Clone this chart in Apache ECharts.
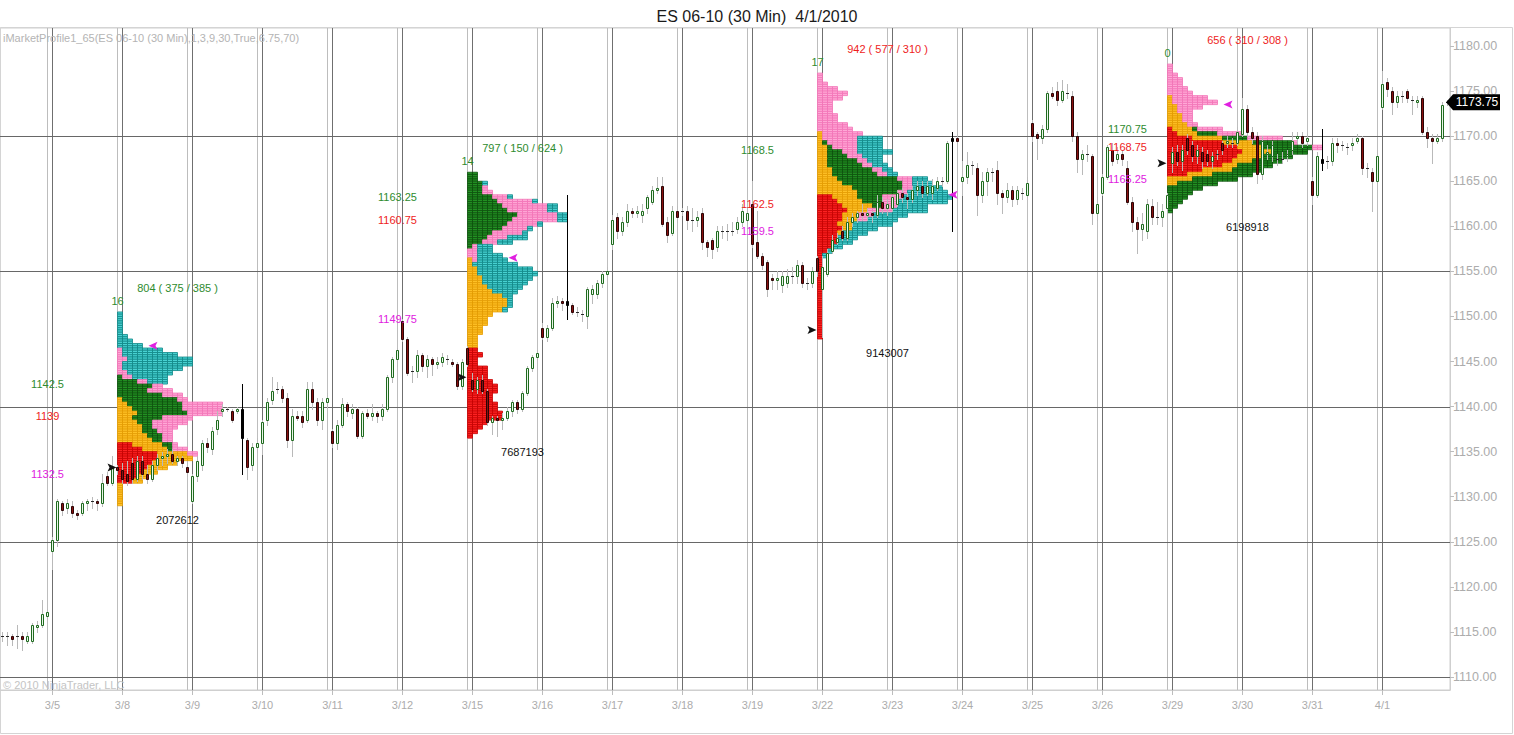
<!DOCTYPE html>
<html><head><meta charset="utf-8">
<script src="https://cdn.jsdelivr.net/npm/echarts@6/dist/echarts.min.js"></script>
<style>html,body{margin:0;padding:0;background:#fff}#c{width:1514px;height:735px}</style>
</head><body><div id="c"></div>
<script>
// ---------- data ----------
const days = ['3/4','3/5','3/8','3/9','3/10','3/11','3/12','3/15','3/16','3/17','3/18','3/19','3/22','3/23','3/24','3/25','3/26','3/29','3/30','3/31','4/1'];
const barsPerDay = [10,14,14,14,14,14,14,14,14,14,14,14,14,14,14,14,14,14,14,14,14];
const yTickValues = [1110,1115,1120,1125,1130,1135,1140,1145,1150,1155,1160,1165,1170,1175,1180];
const yGridValues = [1110,1125,1140,1155,1170];

// OHLC [open, high, low, close] per 30-min bar
const wk0304 = [
 [1114.5,1115,1114,1114.5],[1114.5,1115,1113.5,1114.5],[1114.5,1114.75,1113.5,1114.25],[1114.5,1115.75,1113.25,1114.5],
 [1114.5,1115,1113,1114.25],[1114,1115,1113.75,1114.5],[1114,1116,1113.75,1115.75],[1115.5,1116.25,1115,1115.75],
 [1115.75,1118.5,1115.5,1117],[1116.75,1117.5,1116.5,1117.25],
 [1124,1125.5,1122,1125.25],[1125.25,1129.75,1124.5,1129.5],[1129.25,1129.5,1128,1128.5],[1128.75,1129.75,1128.25,1129.25],
 [1129,1129.5,1127.75,1128.25],[1128.25,1128.5,1127.5,1128],[1128.25,1129.5,1128,1129.25],[1129.25,1129.75,1128.5,1129.5],
 [1129.5,1130,1128.75,1129.5],[1129.5,1129.75,1128.5,1129.25],[1129.25,1132.5,1129,1131.5],[1132.25,1132.75,1131.25,1131.5],
 [1131.5,1134.5,1131.25,1133.25],[1133.25,1133.5,1132.5,1133]
];
const wk0308 = [
 [1133,1133.75,1131.5,1132],[1132.5,1134,1131.25,1131.75],[1133.75,1134.25,1131.5,1132],[1132,1134.5,1131.75,1134],
 [1134,1134.5,1132,1132.5],[1132.5,1133.5,1131.5,1132],[1132,1134,1131.75,1133.5],[1133.5,1134.75,1133,1134.25],
 [1134.25,1135,1133.5,1134.5],[1134.5,1135.25,1133.75,1134.75],[1134.75,1135.25,1133.75,1134],[1134,1134.5,1133.5,1134.25],
 [1134.25,1134.5,1133.25,1133.75],[1133.25,1134,1132.25,1132.75],
 [1129.5,1132.5,1129.25,1132.25],[1132.25,1134.5,1131.75,1134],[1133.5,1136.25,1133,1136],[1136,1136.5,1135,1135.5],
 [1135.25,1137.75,1134.75,1137.25],[1137.5,1139.5,1137,1138.5],[1139.5,1140.25,1139,1139.75],[1139.75,1140,1139.5,1139.75],
 [1139.5,1139.75,1138.25,1138.5],[1139.5,1140,1139.25,1139.75],[1139.75,1142.5,1132.5,1136.5],[1136.25,1136.5,1132,1133.25],
 [1133.5,1136,1133,1135.5],[1135.5,1136.5,1135,1136],
 [1136,1138.5,1134.75,1138.25],[1138.5,1141,1138,1140.5],[1140.75,1143.25,1140.25,1141.75],[1142,1142.75,1141.5,1142],
 [1142,1142.25,1140.5,1141],[1141,1141.5,1135.5,1136.25],[1136.25,1139.75,1134.5,1139],[1139,1139.5,1138.5,1138.75],
 [1139,1139.5,1137.75,1138.25],[1138.5,1142.75,1138.25,1142],[1142,1142.75,1139.75,1140.5],[1140.5,1141,1138,1138.5],
 [1138.5,1141,1137.5,1140.5],[1140.5,1141.5,1140,1141],
 [1137.25,1137.5,1135.5,1136],[1136,1138.5,1135.25,1138],[1138,1141,1137.75,1140.25],[1140.25,1140.5,1139,1139.5],
 [1139.25,1140.25,1138.75,1139.75],[1139.75,1140,1136.5,1136.75],[1136.75,1139.5,1136.5,1139.25],[1139.25,1139.75,1138.75,1139],
 [1139,1140.25,1138.5,1139.25],[1139.25,1139.5,1138.25,1139],[1139,1140.25,1138.5,1139.75],[1139.75,1143.5,1139.5,1143.25],
 [1143.25,1145.5,1142.75,1145.25],[1145.25,1146.5,1144.5,1146.25],
 [1149.5,1149.75,1147.25,1147.5],[1147.5,1147.75,1143.5,1143.75],[1144,1144.5,1142.75,1144],[1144,1146.25,1143.25,1145.75],
 [1145.75,1146,1144,1144.5],[1144.5,1145.75,1143.25,1145.25],[1145.25,1145.5,1143.5,1144.75],[1144.75,1145.5,1144.25,1145],
 [1145,1146,1144.5,1145.5],[1145.25,1145.75,1144.75,1145.25],[1145,1145.25,1144.5,1144.75],[1144.75,1145,1142,1142.25],
 [1142.25,1145.25,1142,1145],[1146.5,1146.75,1144.5,1144.75]
];
const wk0315 = [
 [1143,1143.75,1141.75,1142],[1142,1143.25,1141.5,1143],[1143,1143.5,1141.5,1141.75],[1141.75,1142,1138,1138.25],
 [1138.25,1139,1137,1138.75],[1138.75,1139,1136.75,1138.5],[1138.5,1139.25,1137.5,1138.75],[1138.75,1140,1138.5,1139.5],
 [1139.5,1140.75,1139,1140.5],[1140.5,1140.75,1139.25,1139.75],[1139.75,1141.75,1139.5,1141.5],[1141.5,1144.5,1141.25,1144.25],
 [1144.25,1145.75,1144,1145.5],[1145.5,1146.25,1145.25,1146],
 [1148.75,1149.25,1147.5,1147.75],[1147.75,1149,1147.25,1148.75],[1148.75,1152,1148.5,1151.5],[1151.5,1152.25,1151,1151.75],
 [1151.75,1152,1150.75,1151.5],[1151.75,1163.5,1149.75,1151.25],[1151.25,1151.5,1150.25,1150.5],[1150.5,1151,1150,1150.5],
 [1150.25,1150.75,1149.5,1150.25],[1150,1153.25,1148.75,1153],[1152.5,1153.5,1151.5,1153],[1152.5,1154,1152,1153.75],
 [1153.75,1155,1153.25,1154.75],[1154.75,1155.5,1154.5,1155],
 [1158,1161.25,1157.5,1160.75],[1161,1161.5,1158.75,1159.5],[1159.5,1161,1159,1160.5],[1160.5,1162.5,1160,1161.75],
 [1161.75,1162,1161,1161.5],[1161.5,1162.25,1161,1161.75],[1161.25,1162.5,1160.5,1161.75],[1162,1163.5,1161.5,1163.25],
 [1162.75,1164.5,1162.5,1164],[1164,1165.5,1163.75,1164.25],[1164.5,1165.5,1160,1160.25],[1160.5,1161,1158.25,1159],
 [1159.25,1162.25,1159,1161.75],[1161.75,1162.25,1160.5,1161],
 [1161.75,1162,1161.25,1161.75],[1161.75,1162.25,1159.75,1160.75],[1160.75,1162,1159.5,1160.75],[1160.75,1161.75,1160,1161],
 [1161.5,1162,1157.5,1158.25],[1158.25,1158.5,1156.75,1157.75],[1158.5,1158.75,1156.5,1157.5],[1157.75,1160,1157.25,1159.5],
 [1159.5,1160,1158.75,1159.5],[1159.5,1160.25,1158.5,1159.5],[1159.5,1160.5,1159,1159.5],[1159.75,1161,1159.25,1160.5],
 [1160.5,1162.5,1160,1161.75],[1160.75,1162,1160.25,1161.5],
 [1162.5,1165,1157.75,1158],[1158.25,1161.75,1156.5,1156.75],[1156.75,1157,1155.25,1155.75],[1156,1156.25,1152.25,1153],
 [1154.25,1154.75,1153,1154],[1154,1155,1153,1154.25],[1153.5,1155,1152.75,1154.5],[1153.75,1155.25,1153.25,1154.5],
 [1154.5,1155.5,1153.75,1154.5],[1154.5,1156.25,1153.75,1155.75],[1155.75,1156,1153.25,1153.75],[1153.75,1154.25,1153,1153.75],
 [1153.75,1155.5,1153.25,1155],[1156.5,1156.75,1154.5,1155]
];
const wk0322 = [
 [1153,1156.75,1147.75,1155.5],[1154.75,1157.5,1154.5,1157],[1157.25,1159,1157,1158.5],[1158.25,1159.25,1158,1158.75],
 [1159.5,1160,1158.5,1158.75],[1158.75,1161,1158.5,1160.5],[1160.5,1161.5,1160,1161],[1161,1161.75,1160.5,1161.5],
 [1161.5,1162.5,1160.75,1161.25],[1161.25,1162,1160.75,1161.5],[1161.5,1161.75,1160.5,1161.25],[1161.25,1163.5,1161,1162.75],
 [1162.75,1163.25,1161.5,1162],[1162,1163,1161.25,1162.5],
 [1162,1163.5,1161.75,1163.25],[1162.5,1164,1162.25,1163.75],[1163.75,1164.25,1162.75,1163.25],[1163.25,1163.75,1162,1163],
 [1163,1164.5,1162.75,1164],[1164,1165,1163.5,1164.5],[1164.5,1165,1163.25,1163.75],[1163.75,1165,1163.5,1164.5],
 [1163.75,1165.25,1163,1164.5],[1164.25,1165.5,1164,1165],[1165,1165.5,1164.5,1165],[1165,1169.5,1164.75,1169.25],
 [1169.75,1170.5,1159.5,1169.5],[1169.75,1170.25,1169.25,1169.5],
 [1165,1167.25,1163.5,1165.5],[1165.5,1168.25,1164.75,1166.75],[1166.75,1167.25,1165.75,1166.75],[1166.5,1167,1161.25,1163.5],
 [1163.5,1166,1162.75,1165],[1165,1166.5,1163.5,1166],[1166,1166.5,1165,1166],[1166.25,1167.25,1162.5,1163.75],
 [1163.75,1164,1161.5,1163.25],[1163.25,1164.75,1162.75,1164],[1164,1164.5,1162.25,1163],[1163,1164.5,1162.5,1164],
 [1163.75,1164.25,1163,1163.75],[1163.5,1165.5,1163.25,1164.75],
 [1171.5,1171.75,1169.5,1170],[1170.25,1170.5,1167.5,1169.75],[1169.75,1171.25,1169.25,1170.75],[1170.75,1175,1170.5,1174.75],
 [1174.75,1175.5,1174.25,1174.5],[1175,1176,1173.5,1174],[1174,1176.25,1173.75,1175],[1174.75,1175.75,1174.25,1174.75],
 [1174.5,1175,1169.5,1170],[1170,1170.5,1166,1167.5],[1167.5,1168.5,1165.75,1168],[1168,1169,1167.25,1168],
 [1167.75,1168,1160.25,1161.5],[1161.5,1163.25,1160.75,1162.5],
 [1163.75,1165.75,1163.5,1165.5],[1165.5,1169,1165.25,1168.75],[1168.5,1169.25,1166.75,1167.25],[1167.5,1168.75,1167,1168],
 [1168,1168.5,1166.75,1167.5],[1166.5,1167.25,1162.5,1162.75],[1162.75,1163.25,1159.5,1160.5],[1160.5,1161,1157,1159.75],
 [1159.75,1161.5,1158.5,1160.25],[1159.5,1163,1158.75,1162.5],[1162.25,1163,1160.25,1161],[1161,1162.75,1160.25,1161],
 [1161,1162.5,1160,1161.75],[1162,1163.75,1161.5,1163.5]
];
const wk0329 = [
 [1167,1168.75,1166,1168.25],[1168.25,1169,1166.75,1167.25],[1167.25,1169,1166.25,1168.5],[1169.75,1170.25,1168,1168.5],
 [1169,1169.5,1167.25,1167.75],[1167.75,1169,1167,1168.5],[1168.25,1168.75,1166.5,1167.25],[1168,1168.5,1166.75,1167.25],
 [1167.25,1168.25,1166.5,1167.75],[1168,1168.5,1167.5,1168],[1169.25,1169.5,1168,1168.5],[1169.25,1170,1168.75,1169.5],
 [1169.25,1169.75,1168.75,1169.25],[1169.25,1171,1169,1170.5],
 [1170.25,1174.25,1170,1173],[1173,1173.5,1170,1170.5],[1170.5,1171,1169.25,1169.75],[1170,1170.5,1164.75,1165.75],
 [1165.75,1170,1165.25,1169.5],[1168,1169,1167.5,1168.25],[1167.75,1169.5,1167.25,1169],[1167.5,1168,1166.75,1167.5],
 [1167.5,1168.25,1167,1167.5],[1167.75,1168.5,1167.25,1168],[1168.5,1170.5,1168,1169.5],[1169.75,1170.5,1169.25,1170],
 [1170,1170.5,1168.75,1169.25],[1169.5,1170.25,1169,1169.75],
 [1165,1165.5,1162.5,1163.5],[1163.5,1168.25,1163.25,1167.75],[1167.5,1170.75,1166.25,1167],[1167.25,1167.75,1166.5,1167.25],
 [1167.25,1169.75,1166.75,1169.25],[1169.25,1169.75,1168.25,1169],[1169,1169.5,1168.5,1169],[1168.75,1169.25,1168,1168.75],
 [1169,1169.75,1168.5,1169.25],[1169.5,1170.25,1169.25,1169.75],[1169.75,1170,1165.75,1166.5],[1166.5,1167,1165.5,1166.5],
 [1166,1166.5,1161.75,1165],[1165,1168.5,1164.75,1167.75],
 [1173.25,1177.25,1173,1175.75],[1176,1176.5,1174.5,1175.25],[1175,1175.5,1172.5,1173.75],[1173.75,1175,1173.25,1174.5],
 [1174.5,1175,1173.75,1174.5],[1175,1175.25,1173.75,1174.25],[1174,1174.5,1172.5,1174],[1173.75,1174.5,1173.25,1174],
 [1174.25,1174.5,1170.25,1170.5],[1170.5,1171,1168.75,1169.75],[1169.75,1170.25,1167,1169.5],[1169.5,1170.25,1169.25,1169.75],
 [1169.75,1173.75,1169.5,1173.5],[1173.75,1174,1173.5,1173.75]
];
const blackBars = [48, 113, 190, 264];

// Weekly market profiles: [price, Mon, Tue, Wed, Thu, Fri] (TPO cells per day, 0.5 pt rows)
const prof0308 = [
 [1150.25,0,0,0,0,1],[1149.75,0,0,0,0,1],[1149.25,0,0,0,0,1],[1148.75,0,0,0,0,1],[1148.25,0,0,0,0,1],
 [1147.75,0,0,0,0,2],[1147.25,0,0,0,0,3],[1146.75,0,0,0,0,5],[1146.25,0,0,0,1,8],[1145.75,0,0,0,1,11],
 [1145.25,0,0,0,2,13],[1144.75,0,0,0,1,14],[1144.25,0,0,0,1,12],[1143.75,0,0,0,2,9],[1143.25,0,0,1,2,7],
 [1142.75,0,0,4,2,4],[1142.25,0,0,7,2,0],[1141.75,0,0,6,5,0],[1141.25,0,0,9,4,0],[1140.75,0,1,11,2,0],
 [1140.25,0,2,11,8,0],[1139.75,0,3,10,8,0],[1139.25,0,4,10,7,0],[1138.75,0,3,6,6,0],[1138.25,0,4,3,7,0],
 [1137.75,0,5,2,5,0],[1137.25,0,5,3,3,0],[1136.75,0,6,3,2,0],[1136.25,0,7,2,2,0],[1135.75,3,6,2,1,0],
 [1135.25,5,5,1,3,0],[1134.75,8,6,0,2,0],[1134.25,8,7,0,0,0],[1133.75,7,5,0,0,0],[1133.25,6,4,0,0,0],
 [1132.75,5,3,0,0,0],[1132.25,4,2,0,0,0],[1131.75,3,2,0,0,0],[1131.25,0,1,0,0,0],[1130.75,0,1,0,0,0],
 [1130.25,0,1,0,0,0],[1129.75,0,1,0,0,0],[1129.25,0,1,0,0,0]
];
const prof0315 = [
 [1165.75,0,0,2,0,0],[1165.25,0,0,2,0,0],[1164.75,0,0,3,0,1],[1164.25,0,0,3,1,0],[1163.75,0,0,3,2,0],
 [1163.25,0,0,5,3,1],[1162.75,0,0,6,7,1],[1162.25,0,0,7,9,2],[1161.75,0,0,8,8,2],[1161.25,0,0,10,8,2],
 [1160.75,0,0,9,9,2],[1160.25,0,0,8,6,1],[1159.75,0,0,7,5,1],[1159.25,0,0,5,6,1],[1158.75,0,0,4,4,4],
 [1158.25,0,0,3,3,3],[1157.75,0,0,1,1,3],[1157.25,0,0,0,2,3],[1156.75,0,0,0,2,5],[1156.25,0,1,0,1,6],
 [1155.75,0,1,0,0,9],[1155.25,0,2,0,0,11],[1154.75,0,2,0,0,12],[1154.25,0,3,0,0,10],[1153.75,0,3,0,0,9],
 [1153.25,0,4,0,0,7],[1152.75,0,5,0,0,5],[1152.25,0,7,0,0,2],[1151.75,0,8,0,0,1],[1151.25,0,8,0,0,1],
 [1150.75,0,7,0,0,1],[1150.25,0,5,0,0,0],[1149.75,0,4,0,0,0],[1149.25,0,4,0,0,0],[1148.75,0,3,0,0,0],
 [1148.25,0,3,0,0,0],[1147.75,0,2,0,0,0],[1147.25,0,2,0,0,0],[1146.75,0,2,0,0,0],[1146.25,2,0,0,0,0],
 [1145.75,3,0,0,0,0],[1145.25,2,0,0,0,0],[1144.75,2,0,0,0,0],[1144.25,4,0,0,0,0],[1143.75,4,0,0,0,0],
 [1143.25,4,0,0,0,0],[1142.75,5,0,0,0,0],[1142.25,6,0,0,0,0],[1141.75,6,0,0,0,0],[1141.25,5,0,0,0,0],
 [1140.75,5,0,0,0,0],[1140.25,6,0,0,0,0],[1139.75,6,0,0,0,0],[1139.25,7,0,0,0,0],[1138.75,7,0,0,0,0],
 [1138.25,4,0,0,0,0],[1137.75,3,0,0,0,0],[1137.25,2,0,0,0,0],[1136.75,1,0,0,0,0]
];
const prof0322 = [
 [1176.75,0,0,0,1,0],[1176.25,0,0,0,1,0],[1175.75,0,0,0,2,0],[1175.25,0,0,0,4,0],[1174.75,0,0,0,6,0],
 [1174.25,0,0,0,5,0],[1173.75,0,0,0,3,0],[1173.25,0,0,0,3,0],[1172.75,0,0,0,3,0],[1172.25,0,0,0,4,0],
 [1171.75,0,0,0,4,0],[1171.25,0,0,0,6,0],[1170.75,0,0,0,7,0],[1170.25,0,1,0,8,0],[1169.75,0,1,0,7,5],
 [1169.25,0,1,1,6,5],[1168.75,0,2,1,5,5],[1168.25,0,2,3,3,7],[1167.75,0,2,4,3,4],[1167.25,0,2,6,2,3],
 [1166.75,0,2,7,2,3],[1166.25,0,3,8,2,2],[1165.75,0,3,9,2,2],[1165.25,0,4,12,3,3],[1164.75,0,5,12,2,4],
 [1164.25,0,7,10,2,6],[1163.75,0,8,8,2,8],[1163.25,3,5,5,4,10],[1162.75,4,5,4,3,10],[1162.25,5,6,2,3,6],
 [1161.75,6,4,0,5,7],[1161.25,5,3,0,3,7],[1160.75,5,3,0,2,6],[1160.25,4,3,0,0,8],[1159.75,5,2,0,0,5],
 [1159.25,4,1,0,0,5],[1158.75,4,0,0,0,4],[1158.25,4,0,0,0,3],[1157.75,3,0,0,0,2],[1157.25,2,0,0,0,1],
 [1156.75,1,0,0,0,1],[1156.25,1,0,0,0,0],[1155.75,1,0,0,0,0],[1155.25,1,0,0,0,0],[1154.75,1,0,0,0,0],
 [1154.25,1,0,0,0,0],[1153.75,1,0,0,0,0],[1153.25,1,0,0,0,0],[1152.75,1,0,0,0,0],[1152.25,1,0,0,0,0],
 [1151.75,1,0,0,0,0],[1151.25,1,0,0,0,0],[1150.75,1,0,0,0,0],[1150.25,1,0,0,0,0],[1149.75,1,0,0,0,0],
 [1149.25,1,0,0,0,0],[1148.75,1,0,0,0,0],[1148.25,1,0,0,0,0],[1147.75,1,0,0,0,0]
];
const prof0329 = [
 [1177.75,0,0,0,1,0],[1177.25,0,0,0,1,0],[1176.75,0,0,0,2,0],[1176.25,0,0,0,3,0],[1175.75,0,0,0,3,0],
 [1175.25,0,0,0,4,0],[1174.75,0,0,0,5,0],[1174.25,0,1,0,7,0],[1173.75,0,1,0,9,0],[1173.25,0,2,0,5,0],
 [1172.75,0,2,0,3,0],[1172.25,0,3,0,2,0],[1171.75,0,3,0,2,0],[1171.25,0,4,0,2,0],[1170.75,1,4,1,5,0],
 [1170.25,2,4,4,5,0],[1169.75,5,6,5,7,0],[1169.25,11,6,8,1,0],[1168.75,14,5,10,2,0],[1168.25,15,6,7,0,0],
 [1167.75,14,5,6,0,0],[1167.25,13,4,6,0,0],[1166.75,11,3,7,0,0],[1166.25,7,6,6,0,0],[1165.75,4,5,8,0,0],
 [1165.25,0,5,9,0,0],[1164.75,0,2,8,0,0],[1164.25,0,0,7,0,0],[1163.75,0,0,5,0,0],[1163.25,0,0,4,0,0],
 [1162.75,0,0,3,0,0],[1162.25,0,0,2,0,0],[1161.75,0,0,1,0,0]
];

// profile annotations
const profAnchorBar = [23, 93, 163, 233];
const profTpoCount = ['16','14','17','0'];
const profStats = ['804 ( 375 / 385 )','797 ( 150 / 624 )','942 ( 577 / 310 )','656 ( 310 / 308 )'];
const profStatsColor = ['#2e8b2e','#2e8b2e','#ee1c1c','#ee1c1c'];
const profVolume = ['2072612','7687193','9143007','6198918'];
const profVAH = [1142.5, 1163.25, 1168.5, 1170.75];
const profPOC = [1139, 1160.75, 1162.5, 1168.75];
const profVAL = [1132.5, 1149.75, 1159.5, 1165.25];
const profLevelLabelBar = [9, 79, 151, 225];
const profLabelCenterBar = [34.5, 103.5, 176.5, 248.5];
const profOpenArrow = [1133.25, 1143.25, 1148.5, 1167];
const profCloseArrowBar = [30, 102, 190, 245];
const profCloseArrow = [1146.75, 1156.5, 1163.5, 1173.5];
const lastPrice = 1173.75;

// ---------- build ----------
const FONT = '"Liberation Sans", Arial, sans-serif';
const cats = [], dayStart = [];
days.forEach((d, di) => {
  const n = barsPerDay[di], off = 14 - n;
  if (di > 0) dayStart.push(cats.length);
  for (let k = 0; k < n; k++) cats.push(d + ' ' + (k + off));
});
const startSet = new Set(dayStart);
const ohlc = [].concat(wk0304, wk0308, wk0315, wk0322, wk0329);
const blackSet = new Set(blackBars);
const candleData = ohlc.map((b, i) => [i, b[0], b[1], b[2], b[3], blackSet.has(i) ? 1 : 0]);
const profiles = [prof0308, prof0315, prof0322, prof0329];

const tpoFill = ['#ff2222', '#ffc125', '#229122', '#ffa8d6', '#48d2d2'];
const tpoStroke = ['#c40000', '#e39a00', '#0c4f0c', '#f272b6', '#0f8585'];

function renderCandle(params, api) {
  const i = api.value(0), o = api.value(1), h = api.value(2), l = api.value(3), c = api.value(4), blk = api.value(5);
  const pH = api.coord([i, h]), pL = api.coord([i, l]), pO = api.coord([i, o]), pC = api.coord([i, c]);
  const x = Math.floor(pH[0]) + 0.5;
  const children = [{ type: 'line', shape: { x1: x, y1: Math.round(pH[1]), x2: x, y2: Math.round(pL[1]) + 1 },
    style: { stroke: blk ? '#000' : '#b9b9b9', lineWidth: 1 } }];
  const yT = Math.round(Math.min(pO[1], pC[1])) + 0.5, yB = Math.round(Math.max(pO[1], pC[1])) + 0.5;
  if (yB - yT < 1) {
    children.push({ type: 'line', shape: { x1: x - 1.5, y1: yT, x2: x + 1.5, y2: yT }, style: { stroke: blk ? '#000' : '#2a2a2a', lineWidth: 1 } });
  } else {
    const up = c > o;
    children.push({ type: 'rect', shape: { x: x - 1, y: yT, width: 2, height: yB - yT },
      style: { fill: blk ? '#000' : (up ? '#eaf6ea' : '#8a0f0f'), stroke: blk ? '#000' : (up ? '#1f6a1f' : '#2a0505'), lineWidth: 1 } });
  }
  return { type: 'group', children };
}

function renderProfile(params, api) {
  const a = api.value(0), p = api.value(1);
  const bw = api.size([1, 0])[0];
  const t = api.coord([a, p + 0.25]), m = api.coord([a, p]), b = api.coord([a, p - 0.25]);
  const x0 = t[0];
  const children = [];
  let k = 0;
  for (let d = 0; d < 5; d++) {
    const n = api.value(2 + d);
    for (let j = 0; j < n; j++, k++) {
      const x = x0 + k * bw;
      [[t[1], m[1]], [m[1], b[1]]].forEach(([y1, y2]) => {
        children.push({ type: 'rect', shape: { x: x, y: y1, width: bw, height: y2 - y1 },
          style: { fill: tpoFill[d], stroke: tpoStroke[d], lineWidth: 0.8 } });
      });
    }
  }
  return { type: 'group', children };
}

const vLines = [];
dayStart.forEach(s => { vLines.push([s - 1, 0]); vLines.push([s, 1]); });

const series = [
  { type: 'custom', name: 'vgrid', z: 1, silent: true, data: vLines.map(v => [v[0], 1150, v[1]]), encode: { x: 0, y: 1 },
    renderItem: (params, api) => {
      const cs = params.coordSys; const x = Math.floor(api.coord([api.value(0), 1150])[0]) + 0.5;
      return { type: 'line', shape: { x1: x, y1: cs.y, x2: x, y2: cs.y + cs.height },
        style: { stroke: api.value(2) ? '#6f6f6f' : '#bdbdbd', lineWidth: 1 } };
    } },
  { type: 'custom', name: 'hgrid', z: 1, silent: true, data: yGridValues.map(v => [0, v]), encode: { x: 0, y: 1 },
    renderItem: (params, api) => {
      const cs = params.coordSys; const y = Math.round(api.coord([0, api.value(1)])[1]) + 0.5;
      return { type: 'line', shape: { x1: cs.x, y1: y, x2: cs.x + cs.width, y2: y }, style: { stroke: '#676767', lineWidth: 1 } };
    } }
];
profiles.forEach((rows, pi) => {
  series.push({ type: 'custom', name: 'profile' + pi, z: 2, silent: true, encode: { x: 0, y: 1 },
    data: rows.map(r => [profAnchorBar[pi]].concat(r)), renderItem: renderProfile });
});
series.push({ type: 'custom', name: 'ES 06-10', z: 3, silent: true, encode: { x: 0, y: [1, 2, 3, 4] },
  data: candleData, renderItem: renderCandle });

const chart = echarts.init(document.getElementById('c'), null, { renderer: 'svg', width: 1514, height: 735 });
chart.setOption({
  animation: false,
  backgroundColor: '#ffffff',
  title: { text: 'ES 06-10 (30 Min)  4/1/2010', left: 'center', top: 3,
    textStyle: { fontSize: 16, fontWeight: 'normal', color: '#1a1a1a', fontFamily: FONT } },
  grid: { left: 0, right: 64, top: 28, bottom: 45, show: true, borderColor: '#cfcfcf', borderWidth: 1, containLabel: false },
  xAxis: { type: 'category', data: cats, boundaryGap: true,
    axisLine: { show: true, lineStyle: { color: '#cfcfcf' } },
    axisTick: { show: true, interval: (i) => startSet.has(i), alignWithLabel: true, length: 5, lineStyle: { color: '#bdbdbd' } },
    axisLabel: { interval: (i) => startSet.has(i), formatter: v => v.split(' ')[0], color: '#acacac', fontSize: 11, margin: 9, fontFamily: FONT },
    splitLine: { show: false } },
  yAxis: { type: 'value', position: 'right', min: 1108.56, max: 1182, scale: true,
    axisLine: { show: true, lineStyle: { color: '#cfcfcf' } },
    axisTick: { show: true, customValues: yTickValues, length: 4, lineStyle: { color: '#bdbdbd' } },
    axisLabel: { customValues: yTickValues, formatter: v => Number(v).toFixed(2), color: '#acacac', fontSize: 12.5, margin: 3, fontFamily: FONT },
    splitLine: { show: false } },
  series
});

// ---------- annotations ----------
const px = (i, p) => chart.convertToPixel({ xAxisIndex: 0, yAxisIndex: 0 }, [i, p]);
const bandW = px(1, 1150)[0] - px(0, 1150)[0];
const g = [];
function txt(x, y, s, color, align, size) {
  g.push({ type: 'text', x, y, silent: true, z: 10,
    style: { text: s, fill: color, font: (size || 11) + 'px ' + FONT, align: align || 'center', verticalAlign: 'middle',
      textAlign: align || 'center', textVerticalAlign: 'middle' } });
}
function poly(points, color) { g.push({ type: 'polygon', silent: true, z: 10, shape: { points }, style: { fill: color } }); }

profiles.forEach((rows, pi) => {
  const a = profAnchorBar[pi];
  const top = rows[0][0] + 0.25, bot = rows[rows.length - 1][0] - 0.25;
  const pTop = px(a, top), pBot = px(a, bot);
  const cx = px(profLabelCenterBar[pi], top)[0];
  txt(pTop[0], pTop[1] - 11, profTpoCount[pi], '#2e8b2e');
  txt(cx, pTop[1] - 24, profStats[pi], profStatsColor[pi]);
  txt(cx, pBot[1] + 14, profVolume[pi], '#111111');
  const lb = profLevelLabelBar[pi];
  let q = px(lb, profVAH[pi]); txt(q[0], q[1], String(profVAH[pi]), '#2e8b2e');
  q = px(lb, profPOC[pi]); txt(q[0], q[1], String(profPOC[pi]), '#ee1c1c');
  q = px(lb, profVAL[pi]); txt(q[0], q[1], String(profVAL[pi]), '#e020e0');
  q = px(a - 1, profOpenArrow[pi]);
  poly([[q[0] - 5, q[1] - 4], [q[0] + 4, q[1]], [q[0] - 5, q[1] + 4], [q[0] - 3, q[1]]], '#111111');
  q = px(profCloseArrowBar[pi], profCloseArrow[pi]);
  poly([[q[0] + 5, q[1] - 4], [q[0] - 4, q[1]], [q[0] + 5, q[1] + 4], [q[0] + 3, q[1]]], '#e020e0');
});

// last price marker on the axis
const lp = px(cats.length - 1, lastPrice);
const axX = lp[0] + bandW / 2;
poly([[axX - 4, lp[1]], [axX + 3, lp[1] - 8], [axX + 50, lp[1] - 8], [axX + 50, lp[1] + 8], [axX + 3, lp[1] + 8]], '#000000');
txt(axX + 27, lp[1], lastPrice.toFixed(2), '#ffffff', 'center', 12);

// indicator caption and copyright
txt(3, 38, 'iMarketProfile1_65(ES 06-10 (30 Min),1,3,9,30,True,6.75,70)', '#b4b4b4', 'left', 11);
txt(3, 685, '\u00a9 2010 NinjaTrader, LLC', '#c4c4c4', 'left', 11);
// outer frame
g.push({ type: 'rect', silent: true, z: 0, shape: { x: 0.5, y: 27.5, width: 1512, height: 706 }, style: { fill: 'none', stroke: '#d4d4d4', lineWidth: 1 } });

chart.setOption({ graphic: g });
</script>
</body></html>
